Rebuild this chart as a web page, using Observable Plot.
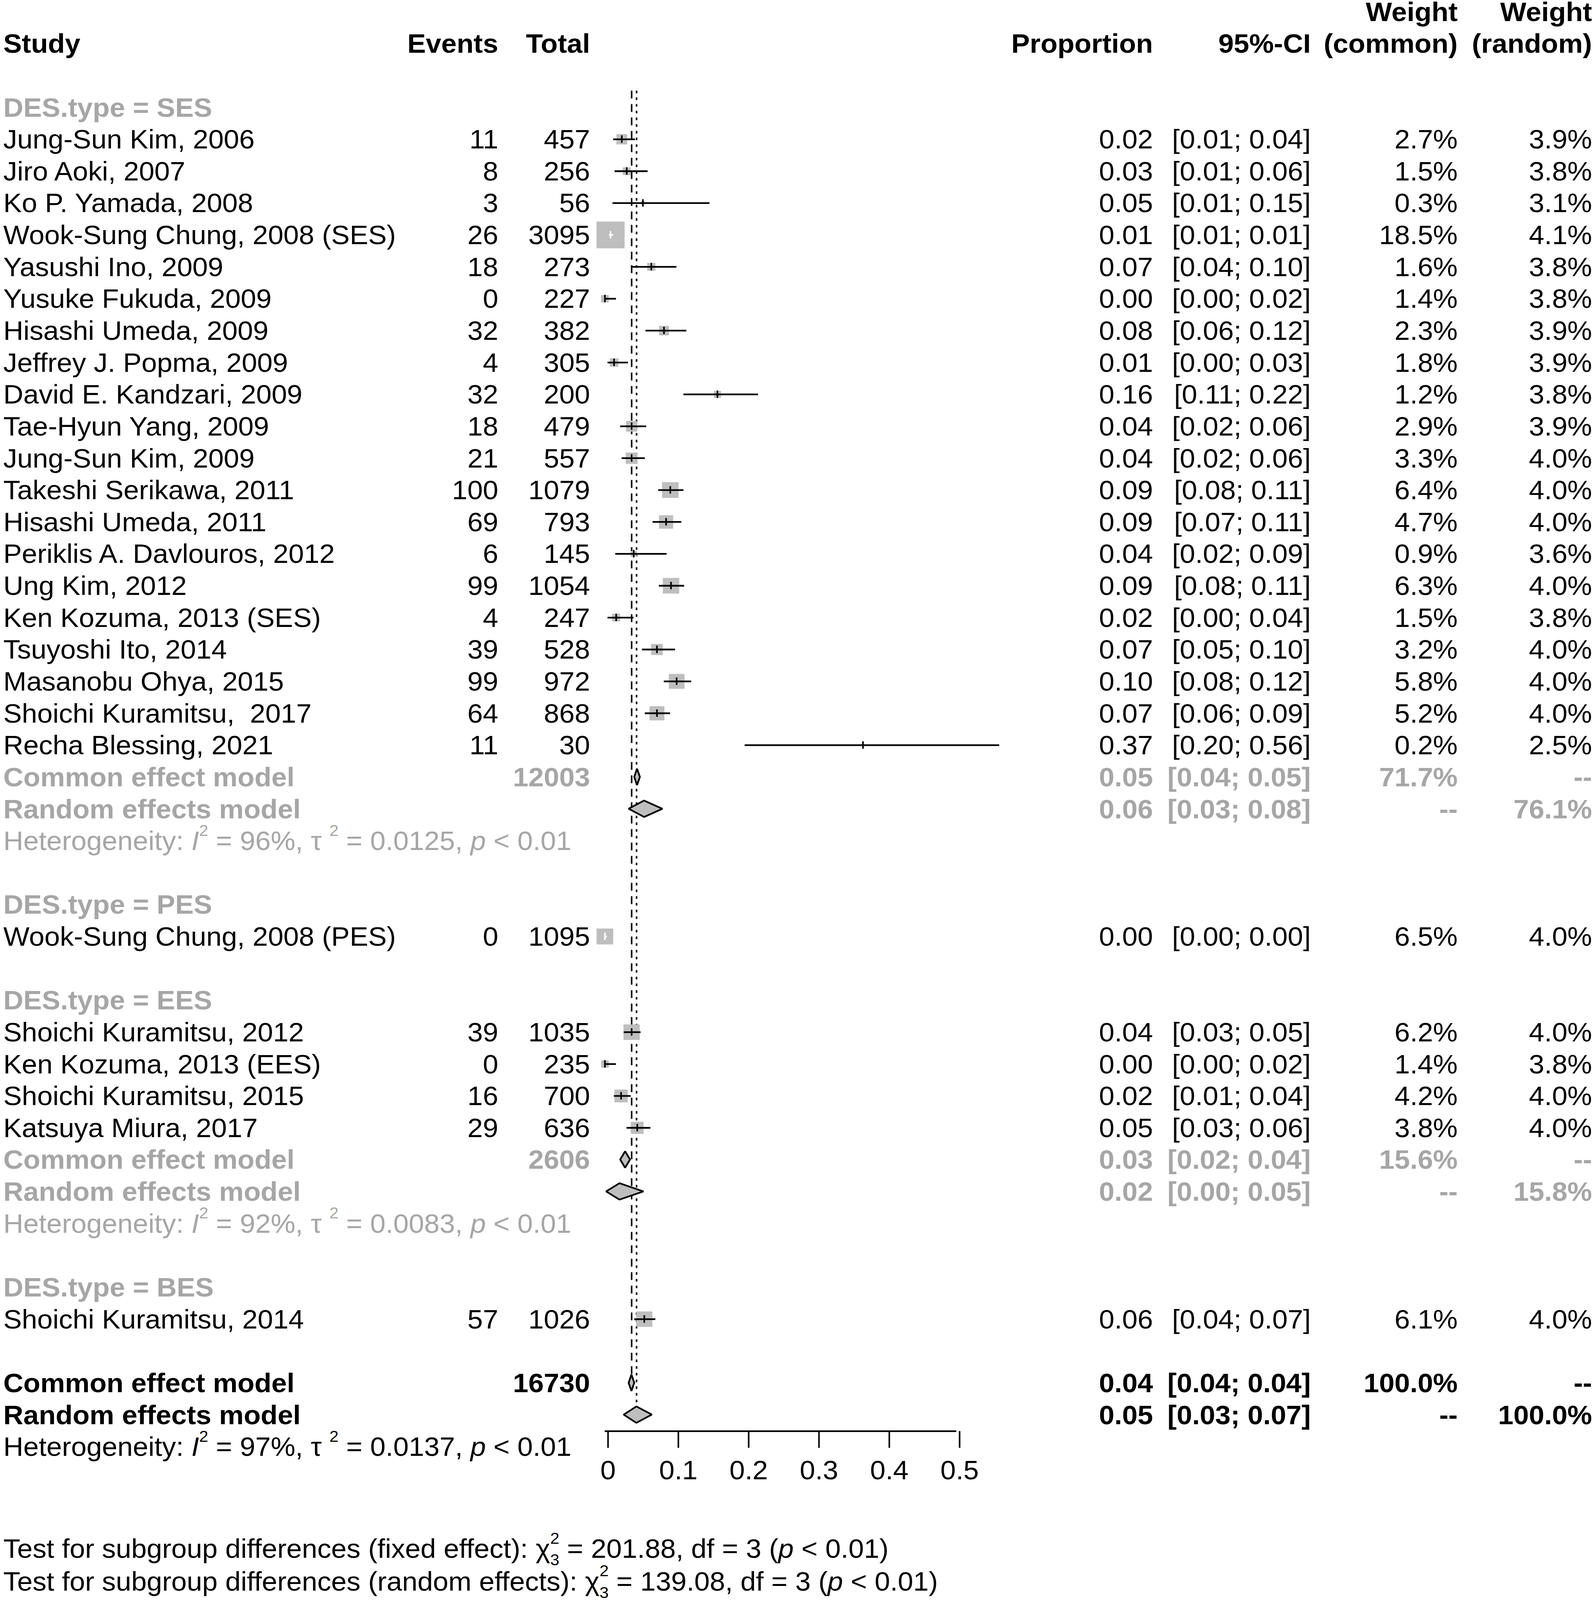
<!DOCTYPE html>
<html><head><meta charset="utf-8">
<script src="https://cdn.jsdelivr.net/npm/d3@7"></script>
<script src="https://cdn.jsdelivr.net/npm/@observablehq/plot@0.6"></script>
<style>
html,body{margin:0;padding:0;background:#fff;overflow:hidden;}
#chart svg{display:block;}
svg text{white-space:pre;}
</style></head><body><div id="chart"></div>
<script>
// ---------------- DATA ----------------
const groupNames = ["SES", "PES", "EES", "BES"];
const studyNames = ["Jung-Sun Kim, 2006","Jiro Aoki, 2007","Ko P. Yamada, 2008","Wook-Sung Chung, 2008 (SES)","Yasushi Ino, 2009","Yusuke Fukuda, 2009","Hisashi Umeda, 2009","Jeffrey J. Popma, 2009","David E. Kandzari, 2009","Tae-Hyun Yang, 2009","Jung-Sun Kim, 2009","Takeshi Serikawa, 2011","Hisashi Umeda, 2011","Periklis A. Davlouros, 2012","Ung Kim, 2012","Ken Kozuma, 2013 (SES)","Tsuyoshi Ito, 2014","Masanobu Ohya, 2015","Shoichi Kuramitsu,  2017","Recha Blessing, 2021","Wook-Sung Chung, 2008 (PES)","Shoichi Kuramitsu, 2012","Ken Kozuma, 2013 (EES)","Shoichi Kuramitsu, 2015","Katsuya Miura, 2017","Shoichi Kuramitsu, 2014"];
const studyGroup = ["SES","SES","SES","SES","SES","SES","SES","SES","SES","SES","SES","SES","SES","SES","SES","SES","SES","SES","SES","SES","PES","EES","EES","EES","EES","BES"];
const events = [11,8,3,26,18,0,32,4,32,18,21,100,69,6,99,4,39,99,64,11,0,39,0,16,29,57];
const totals = [457,256,56,3095,273,227,382,305,200,479,557,1079,793,145,1054,247,528,972,868,30,1095,1035,235,700,636,1026];
const proportion = [0.024,0.031,0.054,0.008,0.066,0.000,0.084,0.013,0.160,0.038,0.038,0.093,0.087,0.041,0.094,0.016,0.074,0.102,0.074,0.367,0.000,0.038,0.000,0.023,0.046,0.056];
const ciLower = [0.012,0.014,0.011,0.006,0.039,0.000,0.058,0.004,0.112,0.022,0.024,0.076,0.068,0.015,0.077,0.004,0.053,0.084,0.057,0.199,0.000,0.027,0.000,0.013,0.031,0.042];
const ciUpper = [0.043,0.061,0.149,0.012,0.102,0.016,0.116,0.033,0.218,0.059,0.057,0.112,0.109,0.088,0.113,0.041,0.100,0.123,0.093,0.561,0.003,0.051,0.016,0.037,0.065,0.072];
const propLabels = ["0.02","0.03","0.05","0.01","0.07","0.00","0.08","0.01","0.16","0.04","0.04","0.09","0.09","0.04","0.09","0.02","0.07","0.10","0.07","0.37","0.00","0.04","0.00","0.02","0.05","0.06"];
const ciLabels = ["[0.01; 0.04]","[0.01; 0.06]","[0.01; 0.15]","[0.01; 0.01]","[0.04; 0.10]","[0.00; 0.02]","[0.06; 0.12]","[0.00; 0.03]","[0.11; 0.22]","[0.02; 0.06]","[0.02; 0.06]","[0.08; 0.11]","[0.07; 0.11]","[0.02; 0.09]","[0.08; 0.11]","[0.00; 0.04]","[0.05; 0.10]","[0.08; 0.12]","[0.06; 0.09]","[0.20; 0.56]","[0.00; 0.00]","[0.03; 0.05]","[0.00; 0.02]","[0.01; 0.04]","[0.03; 0.06]","[0.04; 0.07]"];
const weightCommon = [2.7,1.5,0.3,18.5,1.6,1.4,2.3,1.8,1.2,2.9,3.3,6.4,4.7,0.9,6.3,1.5,3.2,5.8,5.2,0.2,6.5,6.2,1.4,4.2,3.8,6.1];
const weightRandom = [3.9,3.8,3.1,4.1,3.8,3.8,3.9,3.9,3.8,3.9,4.0,4.0,4.0,3.6,4.0,3.8,4.0,4.0,4.0,2.5,4.0,4.0,3.8,4.0,4.0,4.0];

const summaryGroup = ["SES","SES","EES","EES","all","all"];
const summaryModel = ["Common effect model","Random effects model","Common effect model","Random effects model","Common effect model","Random effects model"];
const summaryTotal = ["12003","","2606","","16730",""];
const summaryEst = [0.046,0.056,0.029,0.021,0.038,0.045];
const summaryLower = [0.042,0.034,0.022,0.002,0.034,0.027];
const summaryUpper = [0.050,0.082,0.036,0.055,0.042,0.067];
const summaryPropLabels = ["0.05","0.06","0.03","0.02","0.04","0.05"];
const summaryCILabels = ["[0.04; 0.05]","[0.03; 0.08]","[0.02; 0.04]","[0.00; 0.05]","[0.04; 0.04]","[0.03; 0.07]"];
const summaryWc = ["71.7%","--","15.6%","--","100.0%","--"];
const summaryWr = ["--","76.1%","--","15.8%","--","100.0%"];

const hetGroup = ["SES","EES","all"];
const hetLabels = [
  "Heterogeneity: *I*^{2} = 96%, τ ^{2} = 0.0125, *p* < 0.01",
  "Heterogeneity: *I*^{2} = 92%, τ ^{2} = 0.0083, *p* < 0.01",
  "Heterogeneity: *I*^{2} = 97%, τ ^{2} = 0.0137, *p* < 0.01"
];
const testLabels = [
  "Test for subgroup differences (fixed effect): χ^{2}_{3} = 201.88, df = 3 (*p* < 0.01)",
  "Test for subgroup differences (random effects): χ^{2}_{3} = 139.08, df = 3 (*p* < 0.01)"
];
const refCommon = 0.038;
const refRandom = 0.045;
const xTicks = [0, 0.1, 0.2, 0.3, 0.4, 0.5];
const xTickLabels = ["0", "0.1", "0.2", "0.3", "0.4", "0.5"];

// ---------------- LAYOUT ----------------
const W = 4083, H = 4290;
const plotLeft = 1548, plotRight = 2448, axisY = 3837;
const rowTop = 287.5, rowStep = 85.5;
const FS = 71;
const GREY = "#A6A6A6", SQ = "#BEBEBE";
const colX = {study: 8, events: 1275, total: 1510, prop: 2951, ci: 3355, wc: 3731, wr: 4075};
const rMax = 40.6;
const dh = 22 / rowStep;       // diamond half height (rows)
const tickHalf = 10 / rowStep; // estimate tick half height
const refTop = -0.52;
const testRows = [45.2, 46.22];

// build rows
let k = 0;
const mkStudy = i => ({k: k++, name: studyNames[i], ev: String(events[i]), tot: String(totals[i]),
  prop: proportion[i], lo: ciLower[i], hi: ciUpper[i], propL: propLabels[i], ciL: ciLabels[i],
  wc: weightCommon[i], wcL: weightCommon[i].toFixed(1) + "%", wrL: weightRandom[i].toFixed(1) + "%"});
const studies = [], headers = [], summaries = [], hets = [];
const addSummaries = g => {
  summaryGroup.forEach((sg, j) => {
    if (sg === g) summaries.push({k: k++, grey: g !== "all", name: summaryModel[j], tot: summaryTotal[j],
      est: summaryEst[j], lo: summaryLower[j], hi: summaryUpper[j], propL: summaryPropLabels[j],
      ciL: summaryCILabels[j], wcL: summaryWc[j], wrL: summaryWr[j], random: j % 2 === 1});
  });
  hetGroup.forEach((hg, j) => { if (hg === g) hets.push({k: k++, grey: g !== "all", text: hetLabels[j]}); });
};
for (const g of groupNames) {
  headers.push({k: k++, text: "DES.type = " + g});
  const idx = studyGroup.map((sg, i) => sg === g ? i : -1).filter(i => i >= 0);
  idx.forEach(i => studies.push(mkStudy(i)));
  if (idx.length > 1) addSummaries(g);
  k++;
}
addSummaries("all");

const pxPerUnit = (plotRight - plotLeft) / 0.5;
studies.forEach(d => {
  const side = Math.sqrt(d.wc / 18.5) * rMax * Math.sqrt(Math.PI);
  d.inside = (d.hi - d.lo) * pxPerUnit < side;
});

const diamondPts = summaries.flatMap((s, j) => [
  {id: j, y: s.k - dh, x1: s.est, x2: s.est},
  {id: j, y: s.k, x1: s.lo, x2: s.hi},
  {id: j, y: s.k + dh, x1: s.est, x2: s.est}
]);
const overallCommon = summaries.find(s => !s.grey && !s.random);
const overallRandom = summaries.find(s => !s.grey && s.random);

const colHeaders = [
  {k: -2, text: "Study", col: "study", a: "start"},
  {k: -2, text: "Events", col: "events", a: "end"},
  {k: -2, text: "Total", col: "total", a: "end"},
  {k: -2, text: "Proportion", col: "prop", a: "end"},
  {k: -2, text: "95%-CI", col: "ci", a: "end"},
  {k: -3, text: "Weight", col: "wc", a: "end"},
  {k: -2, text: "(common)", col: "wc", a: "end"},
  {k: -3, text: "Weight", col: "wr", a: "end"},
  {k: -2, text: "(random)", col: "wr", a: "end"}
];

const T = (data, text, col, anchor, extra = {}) => Plot.text(data, {
  y: "k", text, frameAnchor: "left", dx: colX[col] - plotLeft, dy: 2,
  textAnchor: anchor, fontSize: FS, ...extra});

const plot = Plot.plot({
  width: W, height: H,
  marginLeft: plotLeft, marginRight: W - plotRight, marginTop: 0, marginBottom: H - axisY,
  x: {domain: [0, 0.5]},
  y: {domain: [0, 40], range: [rowTop, rowTop + 40 * rowStep], axis: null},
  r: {type: "sqrt", domain: [0, 18.5], range: [0, rMax]},
  style: {fontFamily: "'Liberation Sans', Arial, Helvetica, sans-serif", fontSize: FS + "px", background: "#fff", color: "black"},
  marks: [
    Plot.ruleX([refCommon], {y1: refTop, y2: overallCommon.k + dh, stroke: "black", strokeWidth: 4, strokeDasharray: "21,15"}),
    Plot.ruleX([refRandom], {y1: refTop, y2: overallRandom.k - dh, stroke: "black", strokeWidth: 4, strokeDasharray: "7,11"}),
    Plot.dot(studies, {x: "prop", y: "k", r: "wc", symbol: "square", fill: SQ}),
    Plot.ruleY(studies.filter(d => !d.inside), {y: "k", x1: "lo", x2: "hi", stroke: "black", strokeWidth: 4.5}),
    Plot.ruleY(studies.filter(d => d.inside), {y: "k", x1: "lo", x2: "hi", stroke: "white", strokeWidth: 4.5}),
    Plot.ruleX(studies.filter(d => !d.inside), {x: "prop", y1: d => d.k - tickHalf, y2: d => d.k + tickHalf, stroke: "black", strokeWidth: 4}),
    Plot.ruleX(studies.filter(d => d.inside), {x: "prop", y1: d => d.k - tickHalf, y2: d => d.k + tickHalf, stroke: "white", strokeWidth: 4}),
    Plot.areaX(diamondPts, {y: "y", x1: "x1", x2: "x2", z: "id", fill: SQ, stroke: "black", strokeWidth: 4.5, strokeLinejoin: "miter", curve: "linear"}),
    Plot.ruleY([(axisY - rowTop) / rowStep], {x1: xTicks[0], x2: xTicks[xTicks.length - 1], stroke: "black", strokeWidth: 4.5}),
    Plot.axisX({ticks: xTicks, tickFormat: d => xTickLabels[xTicks.indexOf(d)], anchor: "bottom", tickSize: 45, tickPadding: 33, strokeWidth: 4, fontSize: FS, label: null, dx: 8}),
    ...colHeaders.map(h => T([h], "text", h.col, h.a, {fontWeight: "bold"})),
    T(headers, "text", "study", "start", {fontWeight: "bold", fill: GREY}),
    T(studies, "name", "study", "start"),
    T(studies, "ev", "events", "end"),
    T(studies, "tot", "total", "end"),
    T(studies, "propL", "prop", "end"),
    T(studies, "ciL", "ci", "end"),
    T(studies, "wcL", "wc", "end"),
    T(studies, "wrL", "wr", "end"),
    ...[true, false].flatMap(g => {
      const data = summaries.filter(s => s.grey === g);
      const o = {fontWeight: "bold", fill: g ? GREY : "black"};
      return [T(data, "name", "study", "start", o), T(data, "tot", "total", "end", o),
        T(data, "propL", "prop", "end", o), T(data, "ciL", "ci", "end", o),
        T(data, "wcL", "wc", "end", o), T(data, "wrL", "wr", "end", o)];
    }),
    T(hets.filter(h => h.grey), "text", "study", "start", {fill: GREY}),
    T(hets.filter(h => !h.grey), "text", "study", "start", {fill: "black"}),
    T(testLabels.map((t, i) => ({k: testRows[i], text: t})), "text", "study", "start")
  ]
});

// fill the viewport exactly
plot.setAttribute("preserveAspectRatio", "none");
plot.style.width = "100vw";
plot.style.height = "100vh";
plot.style.maxWidth = "none";
document.getElementById("chart").appendChild(plot);

// rich text: italics, superscripts, subscripts
const NS = "http://www.w3.org/2000/svg";
const supSize = 42, supRaise = 38, subDrop = 20;
plot.querySelectorAll("text").forEach(el => {
  const s = el.textContent;
  if (!s.includes("^{")) return;
  while (el.firstChild) el.removeChild(el.firstChild);
  const re = /\*([^*]+)\*|\^\{([^}]*)\}|_\{([^}]*)\}|([^*^_]+)/g;
  let m, cur = 0, lastSup = "";
  while ((m = re.exec(s))) {
    const ts = document.createElementNS(NS, "tspan");
    let target = 0;
    if (m[1] !== undefined) { ts.textContent = m[1]; ts.setAttribute("font-style", "italic"); }
    else if (m[2] !== undefined) { ts.textContent = m[2]; ts.setAttribute("font-size", supSize); target = -supRaise; lastSup = m[2]; }
    else if (m[3] !== undefined) { ts.textContent = m[3]; ts.setAttribute("font-size", supSize); target = subDrop; ts.setAttribute("dx", -0.556 * supSize * lastSup.length); }
    else { ts.textContent = m[4]; }
    if (target !== cur) { ts.setAttribute("dy", target - cur); cur = target; }
    el.appendChild(ts);
  }
});
</script></body></html>
